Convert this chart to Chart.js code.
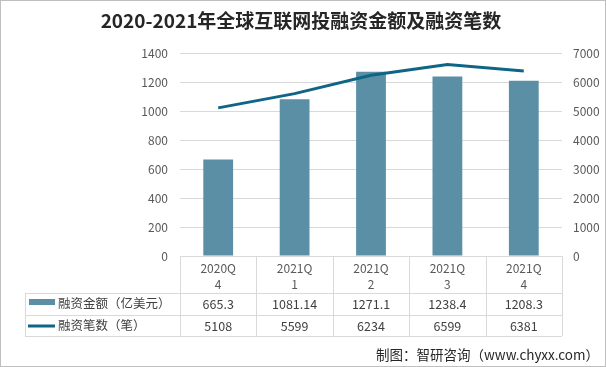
<!DOCTYPE html>
<html>
<head>
<meta charset="utf-8">
<script src="https://cdn.jsdelivr.net/npm/chart.js@4/dist/chart.umd.min.js"></script>
<style>
  html, body { margin: 0; padding: 0; background: #fff; }
  #wrap { width: 606px; height: 367px; position: relative; }
</style>
</head>
<body>
<div id="wrap"><canvas id="chart" width="606" height="367"></canvas></div>
<script>
// --- DATA ---
const titleText = '2020-2021年全球互联网投融资金额及融资笔数';
const categories = [['2020Q', '4'], ['2021Q', '1'], ['2021Q', '2'], ['2021Q', '3'], ['2021Q', '4']];
const amountName = '融资金额（亿美元）';
const countName = '融资笔数（笔）';
const amounts = [665.3, 1081.14, 1271.1, 1238.4, 1208.3];
const amountText = ['665.3', '1081.14', '1271.1', '1238.4', '1208.3'];
const counts = [5108, 5599, 6234, 6599, 6381];
const sourceText = '制图：智研咨询（www.chyxx.com）';

const BAR_COLOR = '#5b8fa6';
const LINE_COLOR = '#0f6586';
const GRID = '#d9d9d9';
const TEXT = '#595959';
const FONT = '"Noto Sans CJK SC", "Noto Sans", sans-serif';

// --- TABLE / TITLE / FOOTER PLUGIN ---
const tablePlugin = {
  id: 'tablePlugin',
  afterDraw(chart) {
    const ctx = chart.ctx;
    const x = chart.scales.x;
    const area = chart.chartArea;
    const bottom = area.bottom;
    const rowY = [bottom + 37, bottom + 59, bottom + 80];
    const tableLeft = 25;
    const step = (area.right - area.left) / categories.length;

    ctx.save();
    // outer frame
    ctx.strokeStyle = '#bfbfbf';
    ctx.lineWidth = 1;
    ctx.strokeRect(0.5, 0.5, 605, 366);

    // title
    ctx.fillStyle = '#262626';
    ctx.font = 'bold 19px ' + FONT;
    ctx.textAlign = 'center';
    ctx.textBaseline = 'middle';
    ctx.fillText(titleText, 301, 21);

    // table grid
    ctx.strokeStyle = GRID;
    ctx.beginPath();
    rowY.forEach(y => {
      ctx.moveTo(tableLeft, Math.round(y) + 0.5);
      ctx.lineTo(area.right, Math.round(y) + 0.5);
    });
    for (let i = 0; i <= categories.length; i++) {
      const vx = Math.round(area.left + i * step) + 0.5;
      ctx.moveTo(vx, bottom);
      ctx.lineTo(vx, rowY[2]);
    }
    ctx.moveTo(tableLeft + 0.5, rowY[0]);
    ctx.lineTo(tableLeft + 0.5, rowY[2]);
    ctx.stroke();

    // header labels
    ctx.fillStyle = TEXT;
    ctx.font = '12px ' + FONT;
    ctx.textAlign = 'center';
    categories.forEach((c, i) => {
      const cx = x.getPixelForValue(i);
      ctx.fillText(c[0], cx, bottom + 12);
      ctx.fillText(c[1], cx, bottom + 28);
    });

    // row values
    ctx.fillStyle = '#404040';
    ctx.font = '12.5px ' + FONT;
    amountText.forEach((t, i) => ctx.fillText(t, x.getPixelForValue(i), rowY[0] + 11));
    counts.forEach((v, i) => ctx.fillText(String(v), x.getPixelForValue(i), rowY[1] + 11));

    // row legends
    ctx.fillStyle = BAR_COLOR;
    ctx.fillRect(29, rowY[0] + 6, 26, 6);
    ctx.strokeStyle = LINE_COLOR;
    ctx.lineWidth = 3;
    ctx.beginPath();
    ctx.moveTo(28, rowY[1] + 11);
    ctx.lineTo(55, rowY[1] + 11);
    ctx.stroke();
    ctx.fillStyle = '#404040';
    ctx.textAlign = 'left';
    ctx.fillText(amountName, 58, rowY[0] + 10);
    ctx.fillText(countName, 58, rowY[1] + 10);

    // footer
    ctx.fillStyle = '#262626';
    ctx.font = '13.5px ' + FONT;
    ctx.textAlign = 'right';
    ctx.fillText(sourceText, 599, 355);
    ctx.restore();
  }
};

// --- CHART ---
const ctx = document.getElementById('chart').getContext('2d');
new Chart(ctx, {
  data: {
    labels: categories,
    datasets: [
      {
        type: 'line',
        label: countName,
        data: counts,
        yAxisID: 'y2',
        borderColor: LINE_COLOR,
        borderWidth: 3,
        pointRadius: 0,
        tension: 0,
        order: 0
      },
      {
        type: 'bar',
        label: amountName,
        data: amounts,
        yAxisID: 'y',
        backgroundColor: BAR_COLOR,
        barPercentage: 0.39,
        categoryPercentage: 1,
        order: 1
      }
    ]
  },
  options: {
    responsive: false,
    animation: false,
    events: [],
    layout: { padding: { top: 53, bottom: 111, left: 0, right: 0 } },
    plugins: { legend: { display: false }, tooltip: { enabled: false }, title: { display: false } },
    scales: {
      x: {
        display: true,
        offset: true,
        grid: { display: false, drawTicks: false },
        border: { display: true, color: GRID },
        ticks: { display: false },
        afterFit(s) { s.height = 0; }
      },
      y: {
        position: 'left',
        min: 0, max: 1400,
        ticks: { stepSize: 200, color: TEXT, padding: 12, font: { family: FONT, size: 12 }, callback: v => String(v) },
        grid: { color: GRID, drawTicks: false },
        border: { display: false },
        afterFit(s) { s.width = 180; }
      },
      y2: {
        position: 'right',
        min: 0, max: 7000,
        ticks: { stepSize: 1000, color: TEXT, padding: 11, font: { family: FONT, size: 12 }, callback: v => String(v) },
        grid: { display: false, drawTicks: false },
        border: { display: false },
        afterFit(s) { s.width = 44; }
      }
    }
  },
  plugins: [tablePlugin]
});
</script>
</body>
</html>
